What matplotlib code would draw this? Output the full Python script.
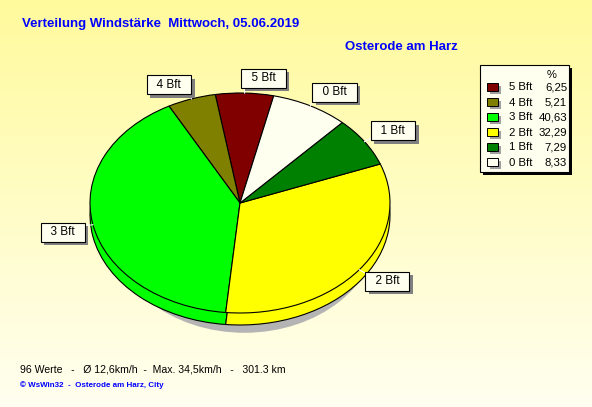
import numpy as np
import matplotlib
matplotlib.use("Agg")
import matplotlib.pyplot as plt
import matplotlib.patheffects as pe
from matplotlib.patches import Rectangle, Ellipse

# ---- data ----
labels = ['5 Bft', '4 Bft', '3 Bft', '2 Bft', '1 Bft', '0 Bft']
values = [6.25, 5.21, 40.63, 32.29, 7.29, 8.33]
value_text = ['6,25', '5,21', '40,63', '32,29', '7,29', '8,33']
colors = ['#800000', '#808000', '#00FF00', '#FFFF00', '#008000', '#FFFFF0']
title = 'Verteilung Windstärke  Mittwoch, 05.06.2019'
subtitle = 'Osterode am Harz'
footer = '96 Werte   -   Ø 12,6km/h  -  Max. 34,5km/h   -   301.3 km'
credit = '© WsWin32  -  Osterode am Harz, City'

plt.rcParams['font.family'] = ['Liberation Sans', 'DejaVu Sans']

W, H = 592, 407
fig = plt.figure(figsize=(W / 100, H / 100), dpi=100)

# background gradient
bg = fig.add_axes([0, 0, 1, 1], zorder=0)
top = np.array([255, 250, 156]) / 255
bot = np.array([255, 255, 240]) / 255
t = np.linspace(0, 1, 256)[:, None]
grad = top[None, :] * (1 - t) + bot[None, :] * t
bg.imshow(grad[:, None, :], aspect='auto', extent=[0, 1, 0, 1])
bg.set_axis_off()

# pie axes: unit circle -> ellipse centred (240,203) px, rx 150, ry 110
rx, ry = 150, 110
cx, cy = 240, 203
lim = 1.6
aw, ah = 2 * lim * rx, 2 * lim * ry
ax = fig.add_axes([(cx - aw / 2) / W, (H - cy - ah / 2) / H, aw / W, ah / H], zorder=1)
ax.patch.set_alpha(0)

depth = 12 / ry
start = 77

# shadow
ax.add_patch(Ellipse((0.03, -0.2), 1.8, 1.96, color='#B4B4B4', lw=0, zorder=0.5))

# side fill
for k in np.linspace(0, depth, 14):
    ws, _ = ax.pie(values, colors=colors, startangle=start, counterclock=True,
                   center=(0, -k), wedgeprops=dict(linewidth=0))
    for w in ws:
        w.set_zorder(1)
# bottom outline
ws, _ = ax.pie(values, colors=colors, startangle=start, counterclock=True,
               center=(0, -depth), wedgeprops=dict(linewidth=0.8, edgecolor='black'))
for w in ws:
    w.set_zorder(2)
# top face
wedges, _ = ax.pie(values, colors=colors, startangle=start, counterclock=True,
                   wedgeprops=dict(linewidth=0.8, edgecolor='black'))
for w in wedges:
    w.set_zorder(3)

ax.set_aspect('auto')
ax.set_xlim(-lim, lim)
ax.set_ylim(-lim, lim)
ax.set_axis_off()

# labels with leader lines
r_lab = 1.08
for w, lab in zip(wedges, labels):
    mid = np.deg2rad((w.theta1 + w.theta2) / 2)
    c, s = np.cos(mid), np.sin(mid)
    ax.plot([c, r_lab * c], [s, r_lab * s], color='white', lw=0.8, zorder=4)
    txt = ax.text(r_lab * c, r_lab * s, '  ' + lab + '  ', fontsize=8.5,
                  ha='left' if c > 0 else 'right', va='bottom' if s > 0 else 'top',
                  zorder=5,
                  bbox=dict(boxstyle='square,pad=0.3', fc='#FFFFF0', ec='black', lw=0.8))
    txt.get_bbox_patch().set_path_effects(
        [pe.SimplePatchShadow(offset=(2.5, -2.5), shadow_rgbFace='#808080', alpha=1), pe.Normal()])

# overlay axes in pixel coordinates for legend/text
ov = fig.add_axes([0, 0, 1, 1], zorder=6)
ov.set_xlim(0, W)
ov.set_ylim(H, 0)
ov.patch.set_alpha(0)
ov.set_axis_off()

blue = '#0000FF'
ov.text(22, 24, title, color=blue, fontsize=9.5, fontweight='bold', va='center', ha='left')
ov.text(345, 47, subtitle, color=blue, fontsize=9.5, fontweight='bold', va='center', ha='left')
ov.text(20, 369, footer, color='black', fontsize=7.6, va='center', ha='left')
ov.text(20, 385, credit, color=blue, fontsize=5.8, fontweight='bold', va='center', ha='left')

# legend box
lx0, ly0, lx1, ly1 = 480, 65, 569, 172
ov.add_patch(Rectangle((lx0 + 3, ly0 + 3), lx1 - lx0, ly1 - ly0, fc='black', ec='none'))
ov.add_patch(Rectangle((lx0, ly0), lx1 - lx0, ly1 - ly0, fc='#FFFFF0', ec='black', lw=0.8))
ov.text(552, 75, '%', fontsize=8, ha='center', va='center')
for i, (lab, vt, col) in enumerate(zip(labels, value_text, colors)):
    y = 87.5 + i * 15.0
    ov.add_patch(Rectangle((490, y - 2), 11, 8, fc='#A0A0A0', ec='none'))
    ov.add_patch(Rectangle((487, y - 4.5), 11, 8, fc=col, ec='black', lw=0.7))
    ov.text(509, y, lab, fontsize=8.2, ha='left', va='center')
    ov.text(567, y, vt, fontsize=8.2, ha='right', va='center')

fig.savefig('out.png', dpi=100)
